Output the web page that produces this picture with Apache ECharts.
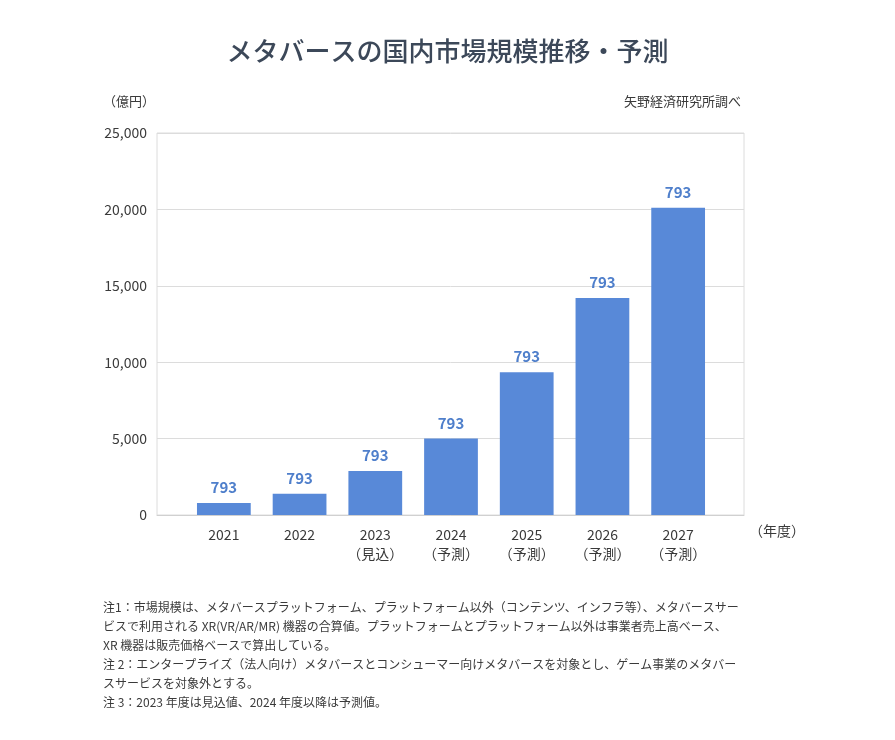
<!DOCTYPE html>
<html>
<head>
<meta charset="utf-8">
<script src="https://cdn.jsdelivr.net/npm/echarts@6/dist/echarts.min.js"></script>
<style>
html,body{margin:0;padding:0;background:#fff;}
#chart{width:895px;height:740px;}
</style>
</head>
<body>
<div id="chart"></div>
<script>
const categories = ['2021', '2022', '2023\n（見込）', '2024\n（予測）', '2025\n（予測）', '2026\n（予測）', '2027\n（予測）'];
const marketValues = [793, 1390, 2880, 5010, 9350, 14200, 20110];
const barLabels = ['793', '793', '793', '793', '793', '793', '793'];
const yTicks = [0, 5000, 10000, 15000, 20000, 25000];
const titleText = 'メタバースの国内市場規模推移・予測';
const unitText = '（億円）';
const sourceText = '矢野経済研究所調べ';
const xUnitText = '（年度）';
const notes = [
  '注1：市場規模は、メタバースプラットフォーム、プラットフォーム以外（コンテンツ、インフラ等）、メタバースサー',
  'ビスで利用される XR(VR/AR/MR) 機器の合算値。プラットフォームとプラットフォーム以外は事業者売上高ベース、',
  'XR 機器は販売価格ベースで算出している。',
  '注 2：エンタープライズ（法人向け）メタバースとコンシューマー向けメタバースを対象とし、ゲーム事業のメタバー',
  'スサービスを対象外とする。',
  '注 3：2023 年度は見込値、2024 年度以降は予測値。'
];

const FONT = '"Noto Sans CJK JP", "Noto Sans", sans-serif';
const chart = echarts.init(document.getElementById('chart'));
const yMin = yTicks[0], yMax = yTicks[yTicks.length - 1], yStep = yTicks[1] - yTicks[0];

chart.setOption({
  backgroundColor: '#ffffff',
  textStyle: { fontFamily: FONT },
  title: {
    text: titleText,
    left: 'center',
    top: 33,
    textStyle: { fontFamily: FONT, fontSize: 26, fontWeight: 500, color: '#3c4859' }
  },
  grid: [
    { left: 157, top: 133, width: 587, height: 382, show: true, borderColor: '#dcdcdc', borderWidth: 1, containLabel: false },
    { left: 186, top: 133, width: 530, height: 382, show: false, containLabel: false }
  ],
  xAxis: [
    { type: 'category', gridIndex: 0, data: [''], axisLine: { show: true, lineStyle: { color: '#d0d0d0' } }, axisTick: { show: false }, axisLabel: { show: false } },
    {
      type: 'category', gridIndex: 1, data: categories,
      axisLine: { show: false }, axisTick: { show: false },
      axisLabel: { margin: 10, fontFamily: FONT, fontSize: 14, color: '#3a3a3a', lineHeight: 19, interval: 0 }
    }
  ],
  yAxis: [
    {
      type: 'value', gridIndex: 0, min: yMin, max: yMax, interval: yStep,
      axisLine: { show: false }, axisTick: { show: false },
      splitLine: { show: true, lineStyle: { color: '#dcdcdc' } },
      axisLabel: { margin: 10, fontFamily: FONT, fontSize: 14, color: '#3a3a3a',
        formatter: v => v.toLocaleString('en-US') }
    },
    { type: 'value', gridIndex: 1, min: yMin, max: yMax, interval: yStep, show: false }
  ],
  series: [{
    type: 'bar',
    xAxisIndex: 1, yAxisIndex: 1,
    data: marketValues,
    barCategoryGap: '29%',
    itemStyle: { color: '#5889d8' },
    label: {
      show: true, position: 'top', distance: 8,
      formatter: p => barLabels[p.dataIndex],
      fontFamily: FONT, fontSize: 15, fontWeight: 'bold', color: '#4f7fcb'
    }
  }],
  graphic: [
    { type: 'text', left: 103, top: 95, style: { text: unitText, font: '13px ' + FONT, fill: '#3a3a3a' } },
    { type: 'text', right: 154, top: 95, style: { text: sourceText, font: '13px ' + FONT, fill: '#3a3a3a' } },
    { type: 'text', left: 749, top: 524, style: { text: xUnitText, font: '14px ' + FONT, fill: '#3a3a3a' } },
    { type: 'text', left: 103, top: 598, style: { text: notes.join('\n'), font: '12px ' + FONT, fill: '#3a3a3a', lineHeight: 19 } }
  ]
});
</script>
</body>
</html>
